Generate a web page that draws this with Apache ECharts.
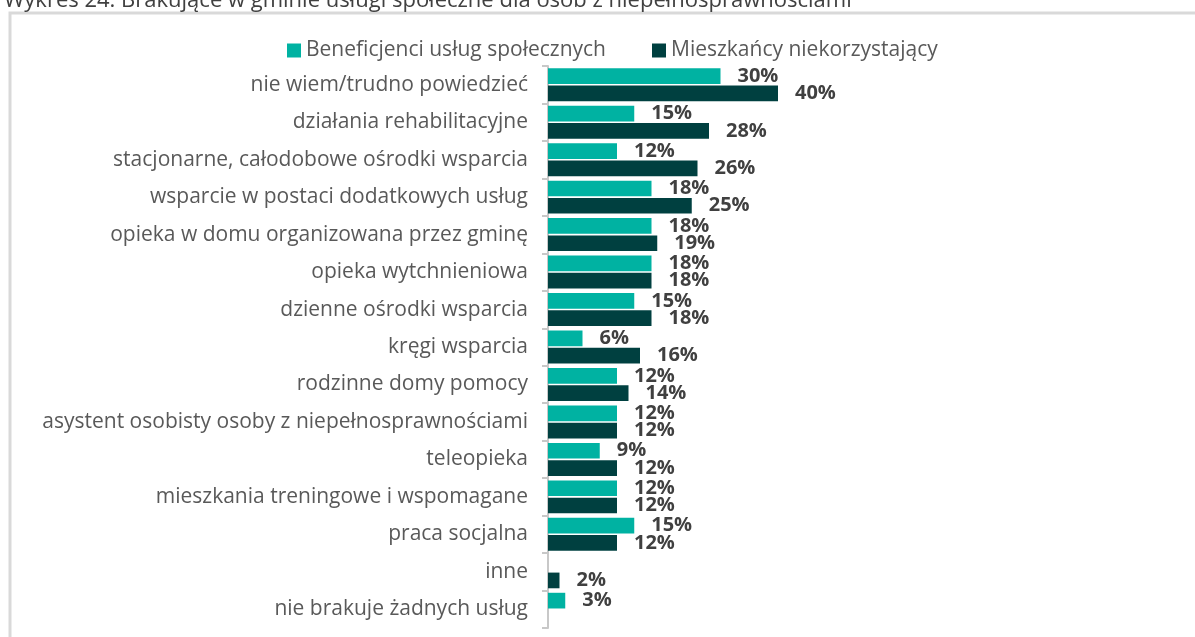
<!DOCTYPE html>
<html>
<head>
<meta charset="utf-8">
<script src="https://cdn.jsdelivr.net/npm/echarts@6/dist/echarts.min.js"></script>
<style>
  html, body { margin: 0; padding: 0; background: #fff; }
  #main { width: 1195px; height: 637px; }
</style>
</head>
<body>
<div id="main"></div>
<script>
var categories = [
  'nie wiem/trudno powiedzieć',
  'działania rehabilitacyjne',
  'stacjonarne, całodobowe ośrodki wsparcia',
  'wsparcie w postaci dodatkowych usług',
  'opieka w domu organizowana przez gminę',
  'opieka wytchnieniowa',
  'dzienne ośrodki wsparcia',
  'kręgi wsparcia',
  'rodzinne domy pomocy',
  'asystent osobisty osoby z niepełnosprawnościami',
  'teleopieka',
  'mieszkania treningowe i wspomagane',
  'praca socjalna',
  'inne',
  'nie brakuje żadnych usług'
];
var beneficjenci = [30, 15, 12, 18, 18, 18, 15, 6, 12, 12, 9, 12, 15, null, 3];
var mieszkancy = [40, 28, 26, 25, 19, 18, 18, 16, 14, 12, 12, 12, 12, 2, null];

var labelStyle = {
  show: true,
  position: 'right',
  distance: 17,
  formatter: '{c}%',
  color: '#404040',
  fontWeight: 'bold',
  fontSize: 20,
  fontFamily: 'Open Sans'
};

var dom = document.getElementById('main');
var myChart = echarts.init(dom);

myChart.setOption({
  animation: false,
  title: {
    text: 'Wykres 24. Brakujące w gminie usługi społeczne dla osób z niepełnosprawnościami',
    left: -1,
    top: -15,
    textStyle: { color: '#404040', fontSize: 22, fontWeight: 'normal', fontFamily: 'Open Sans' }
  },
  graphic: [{
    type: 'rect',
    shape: { x: 10, y: 13, width: 1200, height: 700 },
    style: { fill: 'none', stroke: '#d9d9d9', lineWidth: 3 },
    silent: true
  }],
  legend: {
    top: 35,
    left: 282,
    itemWidth: 14,
    itemHeight: 14,
    itemGap: 46,
    icon: 'rect',
    textStyle: { color: '#595959', fontSize: 21, fontFamily: 'Open Sans' },
    data: ['Beneficjenci usług społecznych', 'Mieszkańcy niekorzystający']
  },
  grid: { left: 548, right: 417, top: 66, bottom: 9 },
  xAxis: {
    type: 'value',
    min: 0,
    max: 40,
    show: false
  },
  yAxis: {
    type: 'category',
    inverse: true,
    data: categories,
    axisLine: { lineStyle: { color: '#c8c8c8', width: 2 } },
    axisTick: { show: true, length: 6, lineStyle: { color: '#c8c8c8', width: 2 } },
    axisLabel: { color: '#595959', fontSize: 21, fontFamily: 'Open Sans', margin: 20 }
  },
  series: [{
    name: 'Beneficjenci usług społecznych',
    type: 'bar',
    data: beneficjenci,
    itemStyle: { color: '#00b2a2' },
    barGap: '10%',
    barCategoryGap: '12%',
    label: labelStyle
  }, {
    name: 'Mieszkańcy niekorzystający',
    type: 'bar',
    data: mieszkancy,
    itemStyle: { color: '#004040' },
    barGap: '10%',
    barCategoryGap: '12%',
    label: labelStyle
  }]
});
</script>
</body>
</html>
